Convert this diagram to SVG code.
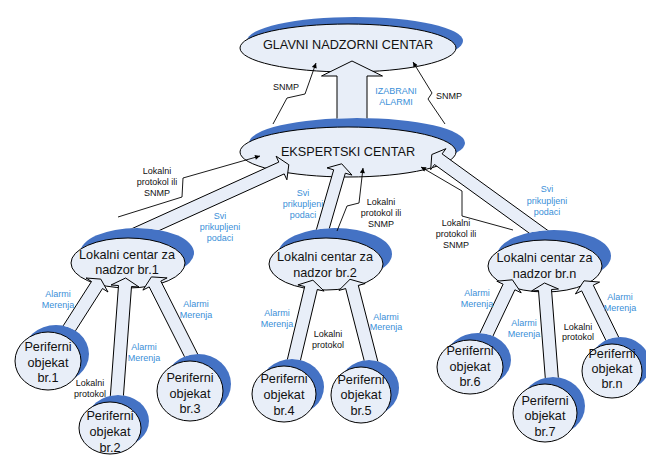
<svg xmlns="http://www.w3.org/2000/svg" width="646" height="455" viewBox="0 0 646 455">
<style>
.sh{fill:#4472C4}
.nd{fill:#E8EEF8;stroke:#000;stroke-width:1}
.t{font-family:"Liberation Sans",Arial,sans-serif;font-size:12.7px;fill:#111;text-anchor:middle}
.s{font-family:"Liberation Sans",Arial,sans-serif;font-size:9px;fill:#111;text-anchor:middle}
.b{fill:#3A8FD8}
.ar{fill:#E8EEF8;stroke:#000;stroke-width:1;stroke-linejoin:miter}
.ln{fill:none;stroke:#000;stroke-width:0.9;marker-end:url(#ah)}
</style>
<defs>
<marker id="ah" viewBox="0 0 10 10" refX="10" refY="5" markerWidth="7" markerHeight="5" orient="auto" markerUnits="userSpaceOnUse"><path d="M0,0 L10,5 L0,10 z" fill="#000"/></marker>
<mask id="mE" maskUnits="userSpaceOnUse" x="0" y="0" width="646" height="455"><rect width="646" height="455" fill="#fff"/><ellipse cx="357" cy="143" rx="108" ry="25"/><ellipse cx="348" cy="152" rx="108" ry="25"/></mask>
<mask id="mL1" maskUnits="userSpaceOnUse" x="0" y="0" width="646" height="455"><rect width="646" height="455" fill="#fff"/><ellipse cx="137" cy="253" rx="57" ry="25"/><ellipse cx="128" cy="263" rx="57" ry="25"/></mask>
<mask id="mL2" maskUnits="userSpaceOnUse" x="0" y="0" width="646" height="455"><rect width="646" height="455" fill="#fff"/><ellipse cx="335" cy="254" rx="57" ry="26"/><ellipse cx="326" cy="264" rx="57" ry="26"/></mask>
<mask id="mLn" maskUnits="userSpaceOnUse" x="0" y="0" width="646" height="455"><rect width="646" height="455" fill="#fff"/><ellipse cx="554" cy="256" rx="57" ry="26"/><ellipse cx="545" cy="266" rx="57" ry="26"/></mask>
<mask id="mP1" maskUnits="userSpaceOnUse" x="0" y="0" width="646" height="455"><rect width="646" height="455" fill="#fff"/><ellipse cx="56" cy="354" rx="33" ry="29"/><ellipse cx="48" cy="361" rx="33" ry="29"/></mask>
<mask id="mP2" maskUnits="userSpaceOnUse" x="0" y="0" width="646" height="455"><rect width="646" height="455" fill="#fff"/><ellipse cx="118" cy="421" rx="31" ry="26"/><ellipse cx="110" cy="428" rx="31" ry="26"/></mask>
<mask id="mP3" maskUnits="userSpaceOnUse" x="0" y="0" width="646" height="455"><rect width="646" height="455" fill="#fff"/><ellipse cx="198" cy="384" rx="33" ry="30"/><ellipse cx="190" cy="391" rx="33" ry="30"/></mask>
<mask id="mP4" maskUnits="userSpaceOnUse" x="0" y="0" width="646" height="455"><rect width="646" height="455" fill="#fff"/><ellipse cx="292" cy="387" rx="32" ry="28"/><ellipse cx="284" cy="394" rx="32" ry="28"/></mask>
<mask id="mP5" maskUnits="userSpaceOnUse" x="0" y="0" width="646" height="455"><rect width="646" height="455" fill="#fff"/><ellipse cx="369" cy="388" rx="30" ry="28"/><ellipse cx="361" cy="395" rx="30" ry="28"/></mask>
<mask id="mP6" maskUnits="userSpaceOnUse" x="0" y="0" width="646" height="455"><rect width="646" height="455" fill="#fff"/><ellipse cx="478" cy="360" rx="33" ry="27"/><ellipse cx="470" cy="367" rx="33" ry="27"/></mask>
<mask id="mP7" maskUnits="userSpaceOnUse" x="0" y="0" width="646" height="455"><rect width="646" height="455" fill="#fff"/><ellipse cx="553" cy="406" rx="32" ry="29"/><ellipse cx="545" cy="413" rx="32" ry="29"/></mask>
<mask id="mPn" maskUnits="userSpaceOnUse" x="0" y="0" width="646" height="455"><rect width="646" height="455" fill="#fff"/><ellipse cx="620" cy="364" rx="30" ry="27"/><ellipse cx="612" cy="371" rx="30" ry="27"/></mask>
</defs>

<g id="glavni">
<ellipse class="sh" cx="355" cy="41" rx="108" ry="24"/>
<ellipse class="nd" cx="348" cy="48" rx="108" ry="24"/>
<text class="t" x="348" y="48.5">GLAVNI NADZORNI CENTAR</text>
</g>
<g id="ekspertski">
<ellipse class="sh" cx="357" cy="143" rx="108" ry="25"/>
<ellipse class="nd" cx="348" cy="152" rx="108" ry="25"/>
<text class="t" x="348" y="155.5">EKSPERTSKI CENTAR</text>
</g>
<g id="lokalni1">
<ellipse class="sh" cx="137" cy="253" rx="57" ry="25"/>
<ellipse class="nd" cx="128" cy="263" rx="57" ry="25"/>
<text class="t" x="127" y="258.5">Lokalni centar za</text>
<text class="t" x="127" y="273.5">nadzor br.1</text>
</g>
<g id="lokalni2">
<ellipse class="sh" cx="335" cy="254" rx="57" ry="26"/>
<ellipse class="nd" cx="326" cy="264" rx="57" ry="26"/>
<text class="t" x="325" y="260.5">Lokalni centar za</text>
<text class="t" x="325" y="276.5">nadzor br.2</text>
</g>
<g id="lokalnin">
<ellipse class="sh" cx="554" cy="256" rx="57" ry="26"/>
<ellipse class="nd" cx="545" cy="266" rx="57" ry="26"/>
<text class="t" x="544.5" y="261.5">Lokalni centar za</text>
<text class="t" x="544.5" y="277.5">nadzor br.n</text>
</g>
<g id="objekat1">
<ellipse class="sh" cx="56" cy="354" rx="33" ry="29"/>
<ellipse class="nd" cx="48" cy="361" rx="33" ry="29"/>
<text class="t" x="48" y="350.5">Periferni</text><text class="t" x="48" y="366.5">objekat</text><text class="t" x="48" y="381.5">br.1</text>
</g>
<g id="objekat2">
<ellipse class="sh" cx="118" cy="421" rx="31" ry="26"/>
<ellipse class="nd" cx="110" cy="428" rx="31" ry="26"/>
<text class="t" x="110" y="419.5">Periferni</text><text class="t" x="110" y="435.5">objekat</text><text class="t" x="110" y="451.5">br.2</text>
</g>
<g id="objekat3">
<ellipse class="sh" cx="198" cy="384" rx="33" ry="30"/>
<ellipse class="nd" cx="190" cy="391" rx="33" ry="30"/>
<text class="t" x="190" y="381.5">Periferni</text><text class="t" x="190" y="397.5">objekat</text><text class="t" x="190" y="412.5">br.3</text>
</g>
<g id="objekat4">
<ellipse class="sh" cx="292" cy="387" rx="32" ry="28"/>
<ellipse class="nd" cx="284" cy="394" rx="32" ry="28"/>
<text class="t" x="284" y="382.5">Periferni</text><text class="t" x="284" y="398.5">objekat</text><text class="t" x="284" y="414.5">br.4</text>
</g>
<g id="objekat5">
<ellipse class="sh" cx="369" cy="388" rx="30" ry="28"/>
<ellipse class="nd" cx="361" cy="395" rx="30" ry="28"/>
<text class="t" x="361" y="383.5">Periferni</text><text class="t" x="361" y="398.5">objekat</text><text class="t" x="361" y="414.5">br.5</text>
</g>
<g id="objekat6">
<ellipse class="sh" cx="478" cy="360" rx="33" ry="27"/>
<ellipse class="nd" cx="470" cy="367" rx="33" ry="27"/>
<text class="t" x="470" y="354.5">Periferni</text><text class="t" x="470" y="370.5">objekat</text><text class="t" x="470" y="385.5">br.6</text>
</g>
<g id="objekat7">
<ellipse class="sh" cx="553" cy="406" rx="32" ry="29"/>
<ellipse class="nd" cx="545" cy="413" rx="32" ry="29"/>
<text class="t" x="545" y="404.5">Periferni</text><text class="t" x="545" y="419.5">objekat</text><text class="t" x="545" y="435.5">br.7</text>
</g>
<g id="objekatn">
<ellipse class="sh" cx="620" cy="364" rx="30" ry="27"/>
<ellipse class="nd" cx="612" cy="371" rx="30" ry="27"/>
<text class="t" x="612" y="357.5">Periferni</text><text class="t" x="612" y="372.5">objekat</text><text class="t" x="612" y="387.5">br.n</text>
</g>

<g id="connectors">
<path class="ar" mask="url(#mE)" d="M337,132 L337,76 L321.5,76 L352,61 L382.5,76 L367,76 L367,132"/>
<path class="ar" mask="url(#mL1)" d="M125.3,245.9 L284.2,173.9 L286.9,179.8 L288.8,164.7 L276.1,156.2 L278.8,162.1 L119.9,234.1"/>
<path class="ar" mask="url(#mL2)" d="M324.9,243.6 L345.3,173.2 L352,175.1 L341.7,163.8 L327,167.9 L333.7,169.8 L313.3,240.2"/>
<path class="ar" mask="url(#mLn)" d="M558.5,238.2 L442.1,153.9 L445.9,148.7 L431.8,154.5 L430.7,169.7 L434.5,164.5 L550.9,248.8"/>
<path class="ar" mask="url(#mP1)" d="M64.6,347.8 L102.5,288.5 L108,292 L100.8,279.1 L86,278 L91.5,281.5 L53.6,340.8"/>
<path class="ar" mask="url(#mP2)" d="M121.9,416.5 L131.5,286.5 L139,287 L125.6,278 L111,285 L118.5,285.5 L108.9,415.5"/>
<path class="ar" mask="url(#mP3)" d="M206.4,371.3 L160.8,281.1 L167.1,277.9 L151.4,276.9 L142.9,290.1 L149.2,286.9 L194.8,377.1"/>
<path class="ar" mask="url(#mP4)" d="M296.1,378.6 L317.3,289.5 L324.1,291.1 L312.9,280.2 L297.9,284.9 L304.7,286.5 L283.5,375.6"/>
<path class="ar" mask="url(#mP5)" d="M381,373.9 L358.3,285.4 L365.1,283.6 L350,279.3 L338.9,290.4 L345.7,288.6 L368.4,377.1"/>
<path class="ar" mask="url(#mP6)" d="M484.7,353.5 L514.9,289.8 L521.2,292.8 L512.4,279.8 L496.8,281.2 L503.1,284.2 L472.9,347.9"/>
<path class="ar" mask="url(#mP7)" d="M559.9,397.8 L551.5,289.5 L558.5,289 L544.5,283 L531.5,291 L538.5,290.5 L546.9,398.8"/>
<path class="ar" mask="url(#mPn)" d="M624.1,348.2 L593.3,285.2 L599.6,282.1 L584,280.8 L575.4,293.9 L581.7,290.9 L612.5,353.9"/>

<path class="ln" d="M273,124 L287,98 L305,94 L316,63"/>
<path class="ln" d="M445,124 L428,99 L432,93 L413,62"/>
<path class="ln" d="M118,217 L182,197 L183,178 L260,156"/>
<path class="ln" d="M337,231 L347,206 L359,203 L363,168"/>
<path class="ln" d="M513,230 L462,216 L462,191 L421,167"/>

<text class="s" x="286" y="90.2">SNMP</text>
<text class="s" x="449" y="99.2">SNMP</text>
<text class="s b" x="396" y="94.2">IZABRANI</text>
<text class="s b" x="396" y="105.2">ALARMI</text>

<text class="s" x="157" y="174.2">Lokalni</text><text class="s" x="157" y="185.2">protokol ili</text><text class="s" x="157" y="196.2">SNMP</text>
<text class="s" x="381" y="205.2">Lokalni</text><text class="s" x="381" y="216.2">protokol ili</text><text class="s" x="381" y="227.2">SNMP</text>
<text class="s" x="456" y="226.2">Lokalni</text><text class="s" x="456" y="237.2">protokol ili</text><text class="s" x="456" y="248.2">SNMP</text>

<text class="s b" x="220" y="219.2">Svi</text><text class="s b" x="220" y="230.2">prikupljeni</text><text class="s b" x="220" y="241">podaci</text>
<text class="s b" x="303" y="196">Svi</text><text class="s b" x="303" y="207">prikupljeni</text><text class="s b" x="303" y="218">podaci</text>
<text class="s b" x="547" y="192">Svi</text><text class="s b" x="547" y="203.5">prikupljeni</text><text class="s b" x="547" y="215">podaci</text>

<text class="s b" x="58" y="296.7">Alarmi</text><text class="s b" x="58" y="307.7">Merenja</text>
<text class="s b" x="144" y="350.2">Alarmi</text><text class="s b" x="144" y="361.2">Merenja</text>
<text class="s b" x="196" y="307.2">Alarmi</text><text class="s b" x="196" y="317.7">Merenja</text>
<text class="s" x="90" y="386.2">Lokalni</text><text class="s" x="90" y="397.2">protokol</text>

<text class="s b" x="277" y="315.7">Alarmi</text><text class="s b" x="277" y="326.7">Merenja</text>
<text class="s b" x="386" y="319.7">Alarmi</text><text class="s b" x="386" y="330.2">Merenja</text>
<text class="s" x="328" y="337.2">Lokalni</text><text class="s" x="328" y="348.2">protokol</text>

<text class="s b" x="477" y="296.2">Alarmi</text><text class="s b" x="477" y="306.7">Merenja</text>
<text class="s b" x="524" y="326.2">Alarmi</text><text class="s b" x="524" y="336.7">Merenja</text>
<text class="s b" x="620" y="300.2">Alarmi</text><text class="s b" x="620" y="310.7">Merenja</text>
<text class="s" x="578" y="329.7">Lokalni</text><text class="s" x="578" y="340.2">protokol</text>
</g>
</svg>
